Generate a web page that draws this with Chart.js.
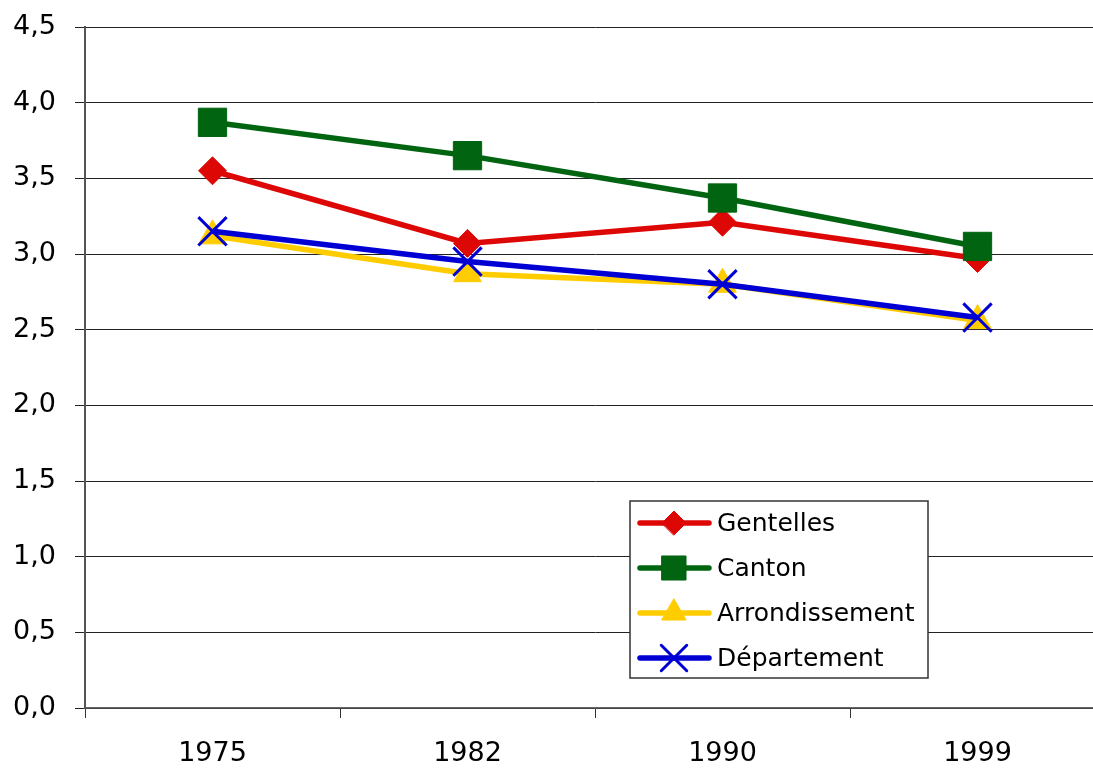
<!DOCTYPE html>
<html>
<head>
<meta charset="utf-8">
<script src="https://cdn.jsdelivr.net/npm/chart.js@4/dist/chart.umd.min.js"></script>
<style>
  html, body { margin: 0; padding: 0; background: #fff; overflow: hidden; }
  #wrap { position: relative; width: 1105px; height: 769px; }
  canvas { display: block; }
</style>
</head>
<body>
<div id="wrap"><canvas id="chart" width="1105" height="769"></canvas></div>
<script>
// years on the x axis
const years = ['1975', '1982', '1990', '1999'];

// series values
const gentelles      = [3.55, 3.07, 3.21, 2.97];
const canton         = [3.87, 3.65, 3.37, 3.05];
const arrondissement = [3.12, 2.87, 2.80, 2.56];
const departement    = [3.15, 2.95, 2.80, 2.58];

// y tick labels, French decimal comma
const yTickLabels = ['0,0', '0,5', '1,0', '1,5', '2,0', '2,5', '3,0', '3,5', '4,0', '4,5'];

const FONT = "'DejaVu Sans', sans-serif";

const series = [
  { label: 'Gentelles', data: gentelles, color: '#DD0806', style: 'rectRot', radius: 14, legendRadius: 12, order: 4 },
  { label: 'Canton', data: canton, color: '#006411', style: 'rect', radius: 20, legendRadius: 17, order: 3 },
  { label: 'Arrondissement', data: arrondissement, color: '#FFCC00', style: 'triangle', radius: 16, legendRadius: 14, order: 2 },
  { label: 'Département', data: departement, color: '#0000D4', style: 'crossRot', radius: 20, legendRadius: 18, order: 1 }
];

// legend box drawn inside the plot, like the original
const boxLegend = {
  id: 'boxLegend',
  afterDraw(chart) {
    const ctx = chart.ctx;
    const x0 = 630, y0 = 501, w = 298, h = 177;
    ctx.save();
    ctx.fillStyle = '#fff';
    ctx.fillRect(x0, y0, w, h);
    ctx.strokeStyle = '#333';
    ctx.lineWidth = 1.5;
    ctx.strokeRect(x0, y0, w, h);
    series.forEach((s, i) => {
      const cy = y0 + 22 + i * 45;
      ctx.strokeStyle = s.color;
      ctx.lineWidth = 5.5;
      ctx.lineCap = 'round';
      ctx.beginPath();
      ctx.moveTo(640, cy);
      ctx.lineTo(709, cy);
      ctx.stroke();
      ctx.fillStyle = s.color;
      ctx.strokeStyle = s.color;
      ctx.lineWidth = s.style === 'crossRot' ? 3 : 1;
      Chart.helpers.drawPoint(ctx, { pointStyle: s.style, radius: s.legendRadius, rotation: 0, borderWidth: ctx.lineWidth }, 674, cy);
      ctx.fillStyle = '#000';
      ctx.font = '25px ' + FONT;
      ctx.textAlign = 'left';
      ctx.textBaseline = 'middle';
      ctx.fillText(s.label, 717, cy + 1);
    });
    ctx.restore();
  }
};

new Chart(document.getElementById('chart'), {
  type: 'line',
  data: {
    labels: years,
    datasets: series.map(s => ({
      label: s.label,
      data: s.data,
      order: s.order,
      borderColor: s.color,
      backgroundColor: s.color,
      borderWidth: 5.5,
      fill: false,
      tension: 0,
      pointStyle: s.style,
      pointRadius: s.radius,
      pointHoverRadius: s.radius,
      pointBackgroundColor: s.color,
      pointBorderColor: s.color,
      pointBorderWidth: s.style === 'crossRot' ? 3 : 1
    }))
  },
  options: {
    responsive: false,
    animation: false,
    devicePixelRatio: 1,
    layout: { autoPadding: false, padding: { top: 27, right: 0, bottom: 0, left: 0 } },
    plugins: {
      legend: { display: false },
      tooltip: { enabled: false }
    },
    scales: {
      x: {
        offset: true,
        afterFit: scale => {
          scale.height = 61;
          scale.paddingLeft = 0;
          scale.paddingRight = 0;
        },
        grid: {
          offset: true,
          drawOnChartArea: false,
          drawTicks: true,
          tickLength: 10,
          color: '#333',
          lineWidth: 1
        },
        border: { display: true, color: '#666', width: 1.5 },
        ticks: {
          color: '#000',
          padding: 20,
          font: { family: FONT, size: 27 }
        }
      },
      y: {
        min: 0,
        max: 4.5,
        afterFit: scale => {
          scale.width = 85;
          scale.paddingTop = 0;
          scale.paddingBottom = 0;
        },
        grid: {
          color: '#222',
          lineWidth: 1,
          tickLength: 10
        },
        border: { display: true, color: '#555', width: 2 },
        ticks: {
          stepSize: 0.5,
          color: '#000',
          padding: 19,
          font: { family: FONT, size: 27 },
          callback: (v, i) => yTickLabels[i]
        }
      }
    }
  },
  plugins: [boxLegend]
});
</script>
</body>
</html>
